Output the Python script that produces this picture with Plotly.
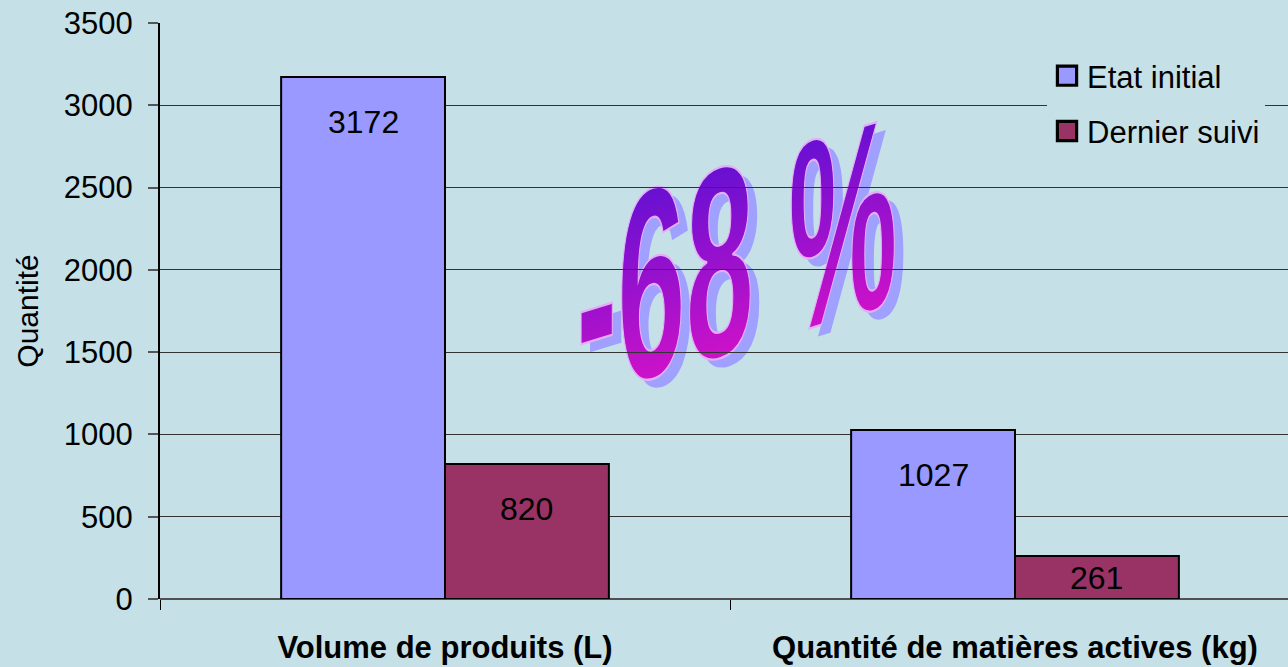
import plotly.graph_objects as go

# ---- data ----
categories = ["Volume de produits (L)", "Quantité de matières actives (kg)"]
series_names = ["Etat initial", "Dernier suivi"]
etat_initial = [3172, 1027]
dernier_suivi = [820, 261]
y_ticks = [0, 500, 1000, 1500, 2000, 2500, 3000, 3500]
y_title = "Quantité"
reduction_label = "-68 %"

# ---- style ----
W, H = 1288, 667
ML, MR, MT, MB = 160, 0, 23, 68
BG = "#c5e1e7"
FONT = "Liberation Sans, Arial, sans-serif"
BARGAP = 0.425
CAT_PX = 570.0
COLORS = ["#9999ff", "#993366"]
YMAX = 3500

plot_w = W - ML - MR
plot_h = H - MT - MB
x_end = -0.5 + plot_w / CAT_PX

fig = go.Figure()
for i, (name, vals) in enumerate(zip(series_names, [etat_initial, dernier_suivi])):
    fig.add_bar(
        name=name, x=categories, y=vals, legendgroup=name,
        marker=dict(color=COLORS[i], line=dict(color="black", width=2)),
        hoverinfo="x+y+name",
    )

# value labels placed inside bars, near the top
offset = (1 - BARGAP) / 4
px_per_unit = plot_h / YMAX
annotations = []
for s, vals in enumerate([etat_initial, dernier_suivi]):
    for i, v in enumerate(vals):
        bar_px = v * px_per_unit
        annotations.append(dict(
            x=i + (-offset if s == 0 else offset), y=v, xref="x", yref="y",
            text=str(v), showarrow=False, yanchor="middle",
            yshift=-min(45, bar_px / 2),
            font=dict(family=FONT, size=32, color="black"),
        ))

# WordArt-like "-68 %" (shadow + main)
cx = (737 - ML) / plot_w
cy = 1 - (257 - MT) / plot_h
annotations.append(dict(x=cx, y=cy, xref="paper", yref="paper", text=reduction_label,
                        showarrow=False, xanchor="center", yanchor="middle",
                        xshift=9, yshift=-8,
                        font=dict(family=FONT, size=150, color="#a0a0ff", weight="bold")))
annotations.append(dict(x=cx, y=cy, xref="paper", yref="paper", text=reduction_label,
                        showarrow=False, xanchor="center", yanchor="middle",
                        font=dict(family=FONT, size=150, color="#b010c8", weight="bold")))

fig.update_layout(
    width=W, height=H,
    margin=dict(l=ML, r=MR, t=MT, b=MB, pad=0),
    paper_bgcolor=BG, plot_bgcolor=BG,
    font=dict(family=FONT, color="black"),
    barmode="group", bargap=BARGAP, bargroupgap=0,
    showlegend=True,
    legend=dict(x=(1047 - ML) / plot_w, y=1 - (49 - MT) / plot_h, xanchor="left", yanchor="top",
                bgcolor=BG, borderwidth=0, font=dict(family=FONT, size=31, color="black"),
                traceorder="grouped", tracegroupgap=12),
    annotations=annotations,
    xaxis=dict(
        type="category", range=[-0.5, x_end], showgrid=False, showline=False, zeroline=False,
        ticks="outside", tickson="boundaries", ticklen=10, tickcolor="black", tickwidth=1,
        tickfont=dict(family=FONT, size=31, color="black", weight="bold"),
        ticklabelstandoff=27, fixedrange=True,
    ),
    yaxis=dict(
        range=[0, YMAX], tickvals=y_ticks, ticktext=[str(t) for t in y_ticks],
        showgrid=True, gridcolor="#333333", gridwidth=1,
        zeroline=True, zerolinecolor="#505050", zerolinewidth=2,
        showline=True, linecolor="black", linewidth=2,
        ticks="outside", ticklen=10, tickcolor="#555555", tickwidth=1.5,
        tickfont=dict(family=FONT, size=31, color="black"), ticklabelstandoff=9,
        title=dict(text=y_title, font=dict(family=FONT, size=30, color="black"), standoff=16),
        fixedrange=True,
    ),
)

js = r"""
document.documentElement.style.margin = '0';
document.body.style.margin = '0';
document.body.style.padding = '0';
document.body.style.background = '#c5e1e7';
var gd = document.getElementById('{plot_id}');
function wordart(){
  var svg = gd.querySelector('svg.main-svg');
  if(!svg) return;
  var ns = 'http://www.w3.org/2000/svg';
  if(!document.getElementById('g68')){
    var defs = svg.querySelector('defs');
    var lg = document.createElementNS(ns, 'linearGradient');
    lg.setAttribute('id', 'g68');
    lg.setAttribute('x1', '0'); lg.setAttribute('y1', '0');
    lg.setAttribute('x2', '0'); lg.setAttribute('y2', '1');
    [['0.15', '#6210d2'], ['0.85', '#d212c8']].forEach(function(s){
      var st = document.createElementNS(ns, 'stop');
      st.setAttribute('offset', s[0]); st.setAttribute('stop-color', s[1]);
      lg.appendChild(st);
    });
    defs.appendChild(lg);
  }
  var fresh = [];
  gd.querySelectorAll('text.annotation-text').forEach(function(t){
    if(t.textContent.indexOf('68') < 0) return;
    if(t.closest('g.wa-moved')) return;
    fresh.push(t);
  });
  if(fresh.length){
    var below = svg.querySelector('g.layer-below') || svg.querySelector('g.bglayer');
    if(below){
      below.querySelectorAll('g.wa-moved').forEach(function(g){ g.remove(); });
    }
    fresh.forEach(function(t, k){
      t.removeAttribute('transform');
      var b = t.getBBox();
      var x0 = b.x + b.width / 2, y0 = b.y + b.height / 2;
      t.setAttribute('transform', 'translate(' + x0 + ' ' + y0 + ') skewY(-17) scale(0.82 1.8) translate(' + (-x0) + ' ' + (-y0) + ')');
      if(k === 1){
        t.style.fill = 'url(#g68)';
        t.style.stroke = '#e4aef6';
        t.style.strokeWidth = '1.3px';
      }
      var ann = t.closest('g.annotation');
      if(ann && below){
        ann.classList.add('wa-moved');
        below.appendChild(ann);
      }
    });
  }
  gd.querySelectorAll('.legendpoints path').forEach(function(p){
    var o = p.getAttribute('data-otr');
    if(o === null){ o = p.getAttribute('transform') || ''; p.setAttribute('data-otr', o); }
    p.setAttribute('transform', o + ' scale(1.6)');
  });
}
wordart();
gd.on('plotly_afterplot', wordart);
"""

fig.write_html("out.html", include_plotlyjs=True, post_script=js,
               config={"displayModeBar": False, "staticPlot": False})
